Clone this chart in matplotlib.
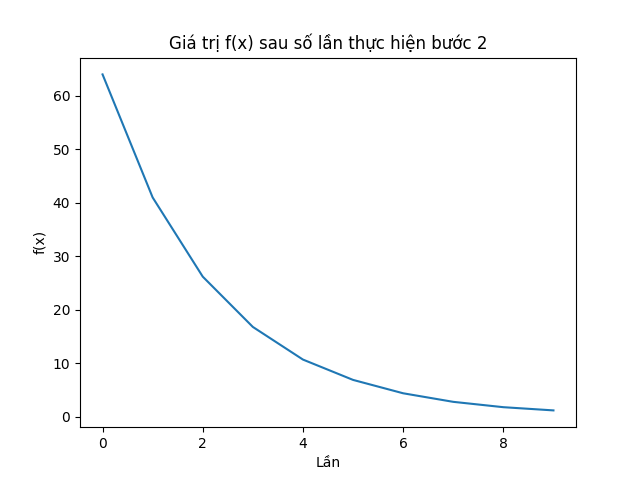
import matplotlib
matplotlib.use("Agg")
from matplotlib import pyplot as plt

# so lan thuc hien va gia tri f(x) doc tu hinh
lan = [0, 1, 2, 3, 4, 5, 6, 7, 8, 9]
fx = [64.0, 41.0, 26.2, 16.8, 10.7, 6.9, 4.4, 2.8, 1.8, 1.2]

plt.figure(figsize=(6.4, 4.8), dpi=100)
plt.plot(lan, fx)
plt.title('Giá trị f(x) sau số lần thực hiện bước 2')
plt.xlabel('Lần')
plt.ylabel('f(x)')
plt.savefig('out.png')
